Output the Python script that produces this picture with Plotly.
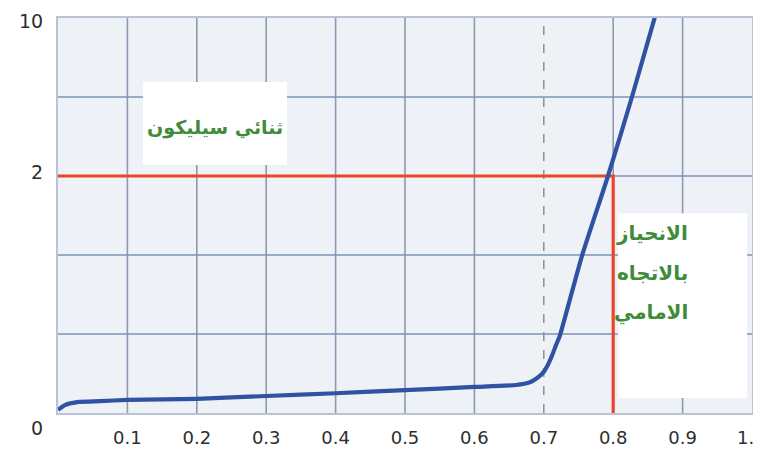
import plotly.graph_objects as go

# Forward-bias characteristic of a silicon diode (schematic grid units on y)
voltage = [0.0, 0.01, 0.03, 0.06, 0.1, 0.2, 0.3, 0.4, 0.5, 0.6, 0.66, 0.68,
           0.69, 0.699, 0.706, 0.712, 0.7176, 0.723, 0.755, 0.7925, 0.827, 0.86]
current = [0.04, 0.10, 0.14, 0.15, 0.165, 0.18, 0.215, 0.25, 0.29, 0.33, 0.355, 0.39,
           0.44, 0.51, 0.61, 0.73, 0.86, 0.975, 1.99, 3.0, 4.0, 5.01]

x_ticks = [0.1, 0.2, 0.3, 0.4, 0.5, 0.6, 0.7, 0.8, 0.9]
x_ticktext = ["0.1", "0.2", "0.3", "0.4", "0.5", "0.6", "0.7", "0.8", "0.9"]
x_last_text = "1."
y_levels = [0, 3, 5]
y_ticktext = ["0", "2", "10"]

knee_voltage = 0.7
op_voltage = 0.8
op_current = 3

label_diode = "ثنائي سيليكون"
label_bias = ["الانحياز", "بالاتجاه", "الامامي"]

fig = go.Figure()

grid_col = "#8d99b2"
for xv in [0.1, 0.2, 0.3, 0.4, 0.5, 0.6, 0.8, 0.9]:
    fig.add_shape(type="line", x0=xv, x1=xv, y0=0, y1=5, line=dict(color=grid_col, width=1.6), layer="below")
for yv in [1, 2, 3, 4]:
    fig.add_shape(type="line", x0=0, x1=1, y0=yv, y1=yv, line=dict(color="#7b91bb", width=1.6), layer="below")

fig.add_shape(type="line", x0=knee_voltage, x1=knee_voltage, y0=0, y1=5,
              line=dict(color="#8a8a8a", width=1.4, dash="dash"), layer="below")

fig.add_shape(type="rect", x0=0.1225, x1=0.33, y0=3.14, y1=4.19, fillcolor="white", line=dict(width=0), layer="above")
fig.add_shape(type="rect", x0=0.807, x1=0.993, y0=0.19, y1=2.53, fillcolor="white", line=dict(width=0), layer="above")

fig.add_trace(go.Scatter(x=[0, op_voltage, op_voltage], y=[op_current, op_current, 0], mode="lines",
                         line=dict(color="#e8452c", width=3.2), hoverinfo="skip", showlegend=False))

fig.add_trace(go.Scatter(x=voltage, y=current, mode="lines",
                         line=dict(color="#2f52a2", width=4.2, shape="spline", smoothing=0.5),
                         showlegend=False))

green = "#3f8b3a"
fig.add_annotation(x=0.226, y=3.61, text="<b>" + label_diode + "</b>", showarrow=False,
                   font=dict(family="DejaVu Sans", size=19, color=green), xanchor="center", yanchor="middle")
for i, t in enumerate(label_bias):
    fig.add_annotation(x=0.911, y=2.28 - i * 0.506, text="<b>" + t + "</b>", showarrow=False,
                       xanchor="right", yanchor="middle",
                       font=dict(family="DejaVu Sans", size=20, color=green))

y_shift = {0: -15, 3: 4, 5: -3}
for yv, t in zip(y_levels, y_ticktext):
    fig.add_annotation(x=0, xref="paper", y=yv, text=t, showarrow=False, xanchor="right", yanchor="middle",
                       xshift=-14, yshift=y_shift[yv], borderpad=0,
                       font=dict(family="DejaVu Sans", size=19, color="#2e2e2e"))

# last x label at the right corner of the plot
fig.add_annotation(x=1, xref="paper", y=0, yref="paper", text=x_last_text, showarrow=False,
                   xanchor="center", yanchor="top", xshift=-7, yshift=-13, borderpad=0,
                   font=dict(family="DejaVu Sans", size=18, color="#2e2e2e"))

fig.update_layout(
    width=753, height=444,
    margin=dict(l=50, r=9, t=10, b=39),
    paper_bgcolor="white",
    plot_bgcolor="#eef1f6",
    showlegend=False,
)
fig.update_xaxes(range=[0, 1], tickvals=x_ticks, ticktext=x_ticktext, showgrid=False, zeroline=False,
                 showline=True, mirror=True, linecolor="#b9c3d6", linewidth=1.5, ticks="",
                 ticklabelstandoff=8, automargin=False,
                 tickfont=dict(family="DejaVu Sans", size=18, color="#2e2e2e"))
fig.update_yaxes(range=[0, 5], showticklabels=False, showgrid=False, zeroline=False, automargin=False,
                 showline=True, mirror=True, linecolor="#b9c3d6", linewidth=1.5, ticks="")

fig.write_html("out.html")
